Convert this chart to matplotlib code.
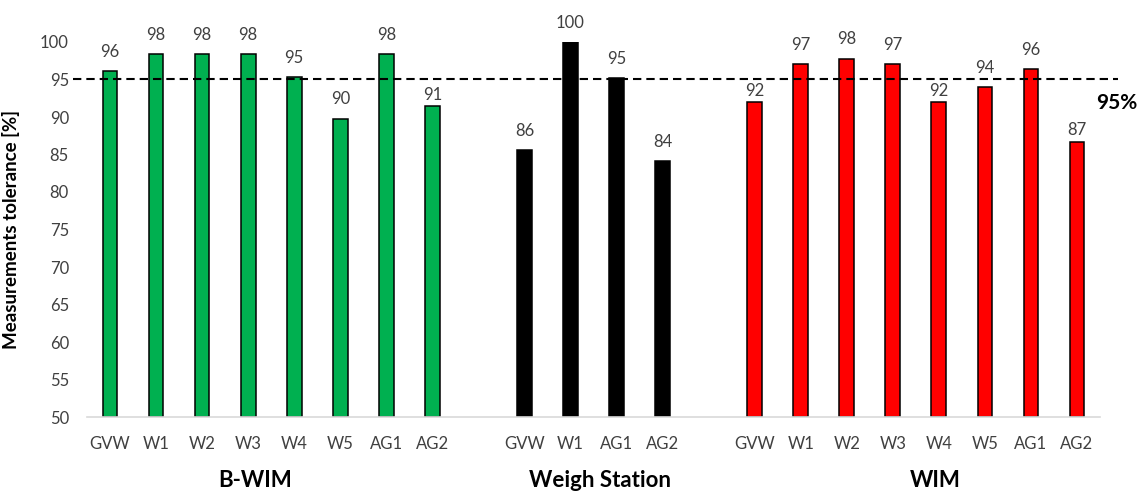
import matplotlib
matplotlib.use("Agg")
import matplotlib.pyplot as plt
import numpy as np

plt.rcParams["font.family"] = ["Lato", "DejaVu Sans"]

GROUPS = ["B-WIM", "Weigh Station", "WIM"]

BWIM_LABELS = ["GVW", "W1", "W2", "W3", "W4", "W5", "AG1", "AG2"]
BWIM_VALUES = [96.1, 98.4, 98.4, 98.4, 95.3, 89.8, 98.4, 91.4]
BWIM_TEXT = ["96", "98", "98", "98", "95", "90", "98", "91"]

WS_LABELS = ["GVW", "W1", "AG1", "AG2"]
WS_VALUES = [85.6, 100.0, 95.2, 84.1]
WS_TEXT = ["86", "100", "95", "84"]

WIM_LABELS = ["GVW", "W1", "W2", "W3", "W4", "W5", "AG1", "AG2"]
WIM_VALUES = [92.0, 97.1, 97.8, 97.1, 92.0, 94.0, 96.4, 86.7]
WIM_TEXT = ["92", "97", "98", "97", "92", "94", "96", "87"]

THRESHOLD = 95

COLORS = {"B-WIM": "#00B050", "Weigh Station": "#000000", "WIM": "#FF0000"}
TEXT_COLOR = "#404040"

# label gap above bar (points); a few labels sit closer in the original
BWIM_GAP = [8, 8, 8, 8, 8, 8, 8, 2.5]
WS_GAP = [8, 8, 8, 8]
WIM_GAP = [2.5, 8, 8, 8, 2.5, 8, 8, 2.5]

# group title x-positions (category units), as placed in the original
GROUP_TITLE_X = [3.15, 10.65, 17.93]

fig = plt.figure(figsize=(11.43, 4.94), dpi=100)
ax = fig.add_axes([87 / 1143, 1 - 417 / 494, (1100 - 87) / 1143, (417 - 42) / 494])

series = [
    ("B-WIM", BWIM_LABELS, BWIM_VALUES, BWIM_TEXT, BWIM_GAP, 0),
    ("Weigh Station", WS_LABELS, WS_VALUES, WS_TEXT, WS_GAP, 9),
    ("WIM", WIM_LABELS, WIM_VALUES, WIM_TEXT, WIM_GAP, 14),
]

ticks, ticklabels = [], []
for (name, labels, values, texts, gaps, start), gx in zip(series, GROUP_TITLE_X):
    x = np.arange(start, start + len(labels))
    ax.bar(x, np.array(values) - 50, bottom=50, width=0.32,
           color=COLORS[name], edgecolor="black", linewidth=1.1, zorder=2)
    for xi, v, t, g in zip(x, values, texts, gaps):
        ax.annotate(t, (xi, v), xytext=(0, g), textcoords="offset points",
                    ha="center", va="bottom", fontsize=12, color=TEXT_COLOR,
                    annotation_clip=False)
    ticks.extend(x)
    ticklabels.extend(labels)
    # group title under the tick labels
    ax.text(gx, -0.17, name, transform=ax.get_xaxis_transform(),
            ha="center", va="center", fontsize=16, fontweight="bold", color="#000000")

# 95% threshold line, running slightly past the plot area
ax.plot([-0.8, 21.9], [THRESHOLD, THRESHOLD], color="black", linewidth=1.5,
        dashes=(4, 2.4), clip_on=False, zorder=3)
ax.text(1117 / 1143, 1 - 103 / 494, "95%", transform=fig.transFigure,
        ha="center", va="center", fontsize=15, fontweight="bold", color="#000000")

ax.set_xlim(-0.5, 21.5)
ax.set_ylim(50, 100)
ax.set_yticks(np.arange(50, 101, 5))
ax.set_xticks(ticks)
ax.set_xticklabels(ticklabels)
ax.tick_params(axis="both", length=0, labelsize=12, labelcolor=TEXT_COLOR)
ax.tick_params(axis="y", pad=13)
ax.tick_params(axis="x", pad=14)

for side in ["top", "right", "left"]:
    ax.spines[side].set_visible(False)
ax.spines["bottom"].set_color("#D9D9D9")
ax.spines["bottom"].set_linewidth(1.2)

ax.set_ylabel("Measurements tolerance [%]", fontsize=13.5, fontweight="bold",
              color="#000000")
ax.yaxis.set_label_coords(-0.066, 0.5)

fig.savefig("out.png", dpi=100, facecolor="white")
